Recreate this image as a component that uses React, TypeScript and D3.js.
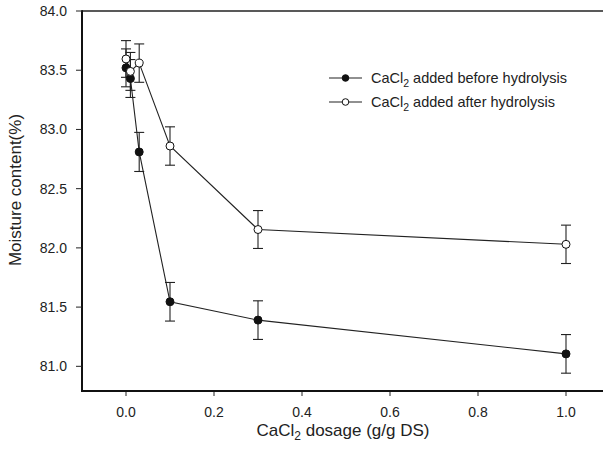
import React from "react";
import * as d3 from "d3";

const beforeX = [0, 0.01, 0.03, 0.1, 0.3, 1.0];
const beforeY = [83.52, 83.43, 82.81, 81.545, 81.39, 81.105];
const beforeErr = [0.16, 0.16, 0.165, 0.163, 0.163, 0.163];

const afterX = [0, 0.01, 0.03, 0.1, 0.3, 1.0];
const afterY = [83.595, 83.49, 83.56, 82.86, 82.155, 82.03];
const afterErr = [0.155, 0.16, 0.162, 0.162, 0.16, 0.162];

const yTicks = [81.0, 81.5, 82.0, 82.5, 83.0, 83.5, 84.0];
const xTicks = [0, 0.2, 0.4, 0.6, 0.8, 1.0];

const FONT = "'Liberation Sans', Arial, Helvetica, sans-serif";

export default function App() {
  const W = 603, H = 452;
  const left = 82, top = 11, bottom = 390;
  const x = d3.scaleLinear().domain([-0.1, 1.1]).range([82, 610]);
  const y = d3.scaleLinear().domain([80.8, 84.0]).range([bottom, top]);
  const line = d3.line<[number, number]>().x(d => x(d[0])).y(d => y(d[1]));

  const series = [
    { xs: beforeX, ys: beforeY, es: beforeErr, fill: "#111" },
    { xs: afterX, ys: afterY, es: afterErr, fill: "#fff" },
  ];

  const cap = 5;

  return (
    <svg width={W} height={H} style={{ position: "absolute", left: 0, top: 0, background: "#fff" }} fontFamily={FONT}>
      <rect x={0} y={0} width={W} height={H} fill="#fff" />
      {/* frame */}
      <line x1={left} x2={W} y1={top} y2={top} stroke="#222" strokeWidth={1.5} />
      <line x1={left} x2={left} y1={top - 0.75} y2={bottom + 1} stroke="#111" strokeWidth={2} />
      <line x1={left - 1} x2={W} y1={bottom + 1} y2={bottom + 1} stroke="#111" strokeWidth={2} />
      {/* y ticks */}
      {yTicks.map(t => (
        <g key={"y" + t}>
          <line x1={left - 6} x2={left} y1={y(t)} y2={y(t)} stroke="#222" strokeWidth={1} />
          <text x={67} y={y(t)} dy="0.35em" textAnchor="end" fontSize={14} fill="#222">{t.toFixed(1)}</text>
        </g>
      ))}
      {/* x ticks */}
      {xTicks.map(t => (
        <g key={"x" + t}>
          <line x1={x(t)} x2={x(t)} y1={bottom + 2} y2={bottom + 6} stroke="#222" strokeWidth={1} />
          <text x={x(t)} y={412} dy="0.35em" textAnchor="middle" fontSize={14} fill="#222">{t.toFixed(1)}</text>
        </g>
      ))}
      {/* axis titles */}
      <text x={343} y={430} dy="0.35em" textAnchor="middle" fontSize={17} fill="#222">
        CaCl<tspan fontSize={12} dy="4">2</tspan><tspan dy="-4"> dosage (g/g DS)</tspan>
      </text>
      <text transform={`translate(15,190) rotate(-90)`} dy="0.35em" textAnchor="middle" fontSize={17} fill="#222">
        Moisture content(%)
      </text>
      {/* series lines */}
      {series.map((s, i) => (
        <path key={"l" + i} d={line(s.xs.map((v, j) => [v, s.ys[j]] as [number, number])) || ""} fill="none" stroke="#222" strokeWidth={1.1} />
      ))}
      {/* error bars */}
      {series.map((s, i) => (
        <g key={"e" + i} stroke="#222" strokeWidth={1.1}>
          {s.xs.map((v, j) => {
            const cx = x(v), y1 = y(s.ys[j] + s.es[j]), y2 = y(s.ys[j] - s.es[j]);
            return (
              <g key={j}>
                <line x1={cx} x2={cx} y1={y1} y2={y2} />
                <line x1={cx - cap} x2={cx + cap} y1={y1} y2={y1} />
                <line x1={cx - cap} x2={cx + cap} y1={y2} y2={y2} />
              </g>
            );
          })}
        </g>
      ))}
      {/* markers */}
      {series.map((s, i) => (
        <g key={"m" + i}>
          {s.xs.map((v, j) => (
            <circle key={j} cx={x(v)} cy={y(s.ys[j])} r={4} fill={s.fill} stroke="#111" strokeWidth={1} />
          ))}
        </g>
      ))}
      {/* legend */}
      {[
        { label: "added before hydrolysis", fill: "#111", yy: 78 },
        { label: "added after hydrolysis", fill: "#fff", yy: 102 },
      ].map((l, i) => (
        <g key={"lg" + i}>
          <line x1={329} x2={362} y1={l.yy} y2={l.yy} stroke="#222" strokeWidth={1.1} />
          <circle cx={345.5} cy={l.yy} r={3.3} fill={l.fill} stroke="#111" strokeWidth={1} />
          <text x={371} y={l.yy} dy="0.35em" fontSize={14.5} fill="#222">
            CaCl<tspan fontSize={10.5} dy="4">2</tspan><tspan dy="-4"> {l.label}</tspan>
          </text>
        </g>
      ))}
    </svg>
  );
}
